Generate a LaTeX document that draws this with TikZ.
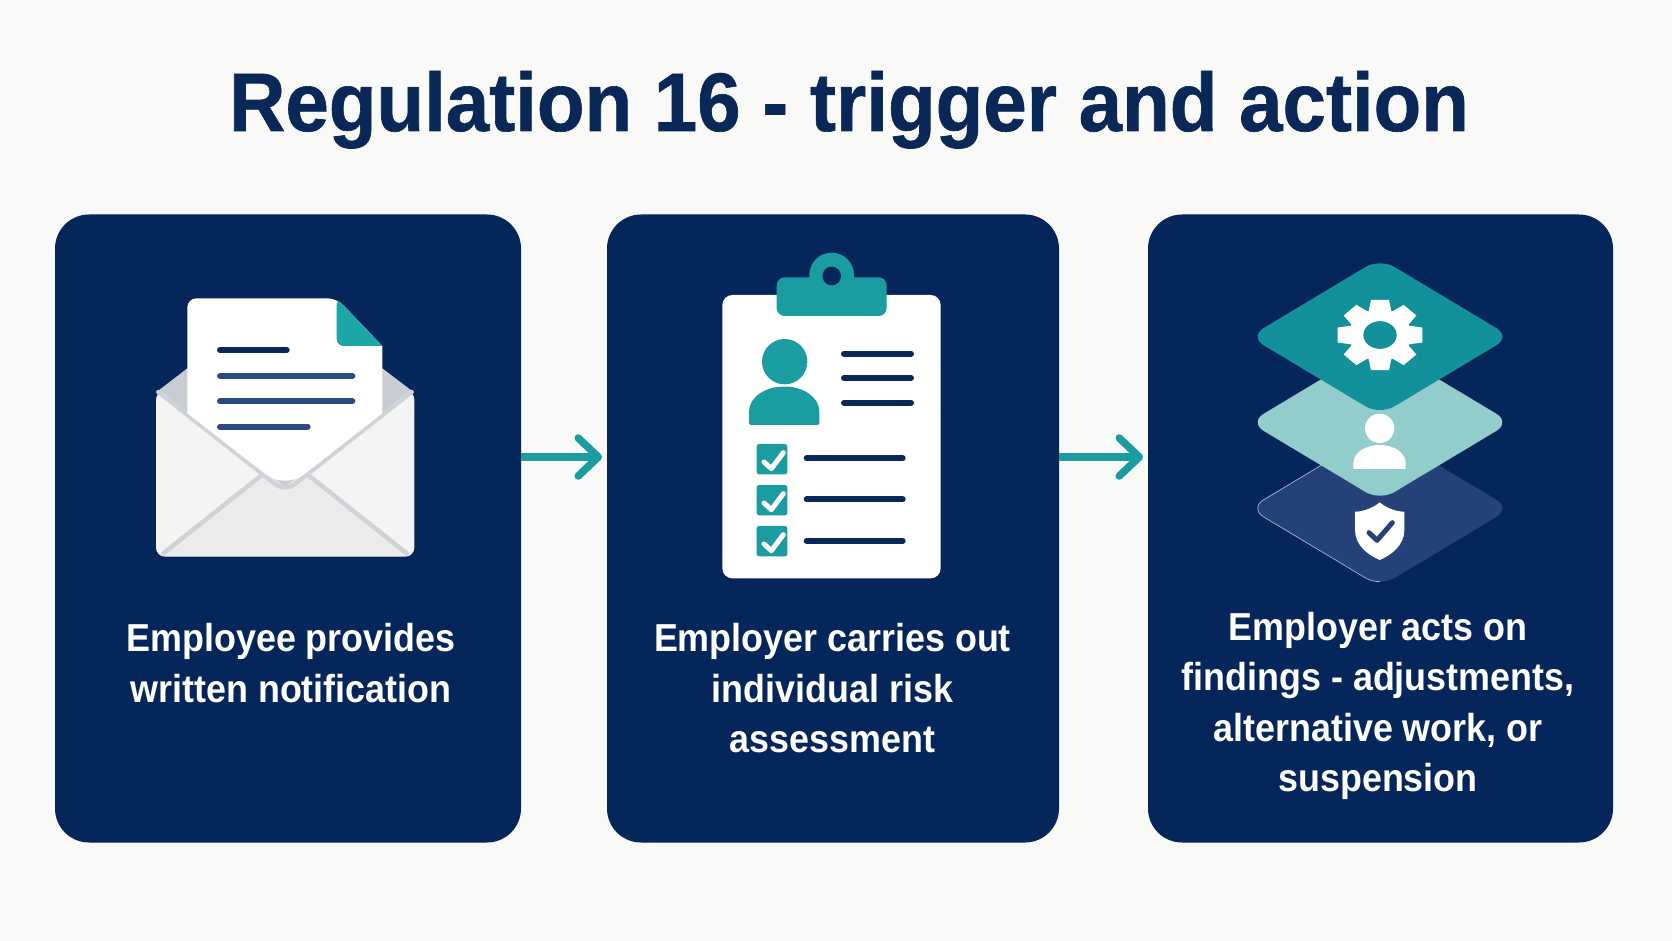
\documentclass[tikz,border=0pt]{standalone}
\usepackage{fontspec}
\setmainfont{Liberation Sans}
\newfontfamily\titlef[FakeStretch=0.94,BoldFeatures={FakeBold=0.8}]{Liberation Sans}
\newfontfamily\bodyf[FakeStretch=0.92]{Liberation Sans}
\usetikzlibrary{arrows.meta}
\definecolor{bgc}{HTML}{F9F9F7}
\definecolor{navy}{HTML}{04265A}
\definecolor{titlec}{HTML}{0A2857}
\definecolor{teal}{HTML}{1A9CA0}
\definecolor{tealdk}{HTML}{13919A}
\definecolor{tealfold}{HTML}{1CA6A8}
\definecolor{tealpale}{HTML}{92CCCB}
\definecolor{navylt}{HTML}{254278}
\definecolor{linec}{HTML}{2A4A80}
\definecolor{flapc}{HTML}{C9CDD3}
\definecolor{bodyc}{HTML}{F4F4F4}
\definecolor{botc}{HTML}{ECECEC}
\definecolor{creasec}{HTML}{CFD2D6}
\tikzset{
  card/.style={fill=navy,rounded corners=34pt,minimum width=#1,minimum height=628pt,inner sep=0pt,outer sep=0pt},
  cardtext/.style={text=white,align=center,font=\bodyf\bfseries\fontsize{39}{50.5}\selectfont,inner sep=0pt},
  flow/.style={draw=teal,line width=7.5pt,-{Straight Barb[length=20pt,width=38pt,line cap=round,line join=round]}},
  ink/.style={draw=titlec,line width=6pt,line cap=round},
  inkb/.style={draw=linec,line width=6pt,line cap=round},
  boxc/.style={fill=teal,rounded corners=2.5pt},
  tick/.style={draw=white,line width=5pt,line cap=round,line join=round},
  crease/.style={draw=creasec,line width=4.5pt,line cap=round,line join=round},
  plate/.style={rounded corners=16.7pt}
}
\newcommand{\checkbox}[1]{%
  \fill[boxc] (170,#1) rectangle ++(92,91);
  \draw[tick] (192,#1+54) -- ++(22,20) -- ++(36,-48);
}
\newcommand{\plateat}[2]{%
  \path[plate,#2] (420,#1-235) -- (812,#1) -- (420,#1+235) -- (28,#1) -- cycle;
}
\begin{document}
\begin{tikzpicture}[x=1pt,y=-1pt]
\useasboundingbox (0,0) rectangle (1672,941);
\fill[bgc] (0,0) rectangle (1672,941);
\node[anchor=base,text=titlec,font=\titlef\bfseries\fontsize{83}{83}\selectfont,inner sep=0pt] (title) at (849,131) {Regulation 16 - trigger and action};
\node[card=466pt] (c1) at (288,528.5) {};
\node[card=452pt] (c2) at (833,528.5) {};
\node[card=465pt] (c3) at (1380.5,528.5) {};
\coordinate (a1) at (602,457);
\coordinate (a2) at (1143,457);
\draw[flow] (c1.east |- a1) -- (a1);
\draw[flow] (c2.east |- a2) -- (a2);
% envelope
\begin{scope}[shift={(130,270)},scale=1/3]
\fill[bodyc,rounded corners=9pt] (78,362) -- (853,362) -- (853,860) -- (78,860) -- cycle;
\fill[botc] (100,858) -- (465,570) -- (830,858) -- cycle;
\draw[crease] (100,850) -- (465,560) -- (830,850);
\fill[flapc] (85,362) -- (172,295) -- (757,295) -- (845,362) -- (465,650) -- cycle;
\draw[crease] (85,366) [rounded corners=12pt] -- (465,665) -- (845,366);
\path[fill=white,rounded corners=9pt] (400,85) -- (620,85) [sharp corners] -- (757,228) -- (757,430) [rounded corners=24pt] -- (465,658) [sharp corners] -- (172,430) [rounded corners=9pt] -- (172,85) -- cycle;
\fill[tealfold] [rounded corners=7pt] (620,85) [rounded corners=0pt] -- (757,228) [rounded corners=7pt] -- (620,228) -- cycle;
\draw[ink] (270,240) -- (470,240);
\draw[inkb] (270,318) -- (667,318);
\draw[inkb] (270,394) -- (667,394);
\draw[inkb] (270,470) -- (533,470);
\end{scope}
% clipboard
\begin{scope}[shift={(700,240)},scale=1/3]
\fill[white,rounded corners=10pt] (67,165) rectangle (722,1015);
\fill[teal,rounded corners=8pt] (230,112) rectangle (560,228);
\fill[teal] (395,105) circle (67);
\fill[navy] (395,108) circle (28);
\fill[teal] (254,365) circle (68);
\fill[teal,rounded corners=2pt] (147,555) -- (147,520) .. controls (147,470) and (200,440) .. (253,440) .. controls (306,440) and (358,470) .. (358,520) -- (358,555) -- cycle;
\draw[ink] (432,341) -- (633,341);
\draw[ink] (432,414) -- (633,414);
\draw[ink] (432,488) -- (633,488);
\checkbox{612}
\checkbox{735}
\checkbox{858}
\draw[ink] (320,655) -- (608,655);
\draw[ink] (320,778) -- (608,778);
\draw[ink] (320,903) -- (608,903);
\end{scope}
% layers
\begin{scope}[shift={(1240,250)},scale=1/3]
\plateat{775}{fill=navylt}
\begin{scope}
\clip (0,600) rectangle (420,1020);
\plateat{775}{draw=white!60!navylt,line width=.7pt}
\end{scope}
\plateat{517}{fill=tealpale}
\plateat{260}{fill=tealdk}
\begin{scope}[shift={(420,255)},yscale=.83]
\fill[white] (0,0) circle (93);
\foreach \a in {0,45,...,315}{
  \fill[white,rotate=\a] (80,-35) -- (127,-27) -- (127,27) -- (80,35) -- cycle;
}
\fill[tealdk] (0,0) circle (50);
\end{scope}
\fill[white] (419,535) circle (44);
\fill[white] (340,657) -- (340,640) .. controls (340,605) and (380,585) .. (419,585) .. controls (458,585) and (497,605) .. (497,640) -- (497,657) -- cycle;
\fill[white] (419,757) .. controls (440,775) and (470,785) .. (493,785) -- (493,840) .. controls (493,885) and (455,915) .. (419,930) .. controls (383,915) and (345,885) .. (345,840) -- (345,785) .. controls (368,785) and (398,775) .. (419,757) -- cycle;
\draw[navylt,line width=5pt,line cap=round,line join=round] (387,848) -- (411,871) -- (457,818);
\end{scope}
% labels
\node[cardtext] (t1) at (291,663) {Employee provides\\written notification};
\node[cardtext] (t2) at (832.5,688.5) {Employer carries out\\individual risk\\assessment};
\node[cardtext] (t3) at (1378,706) {Employer acts on\\findings - adjustments,\\alternative work, or\\suspension};
\end{tikzpicture}
\end{document}
